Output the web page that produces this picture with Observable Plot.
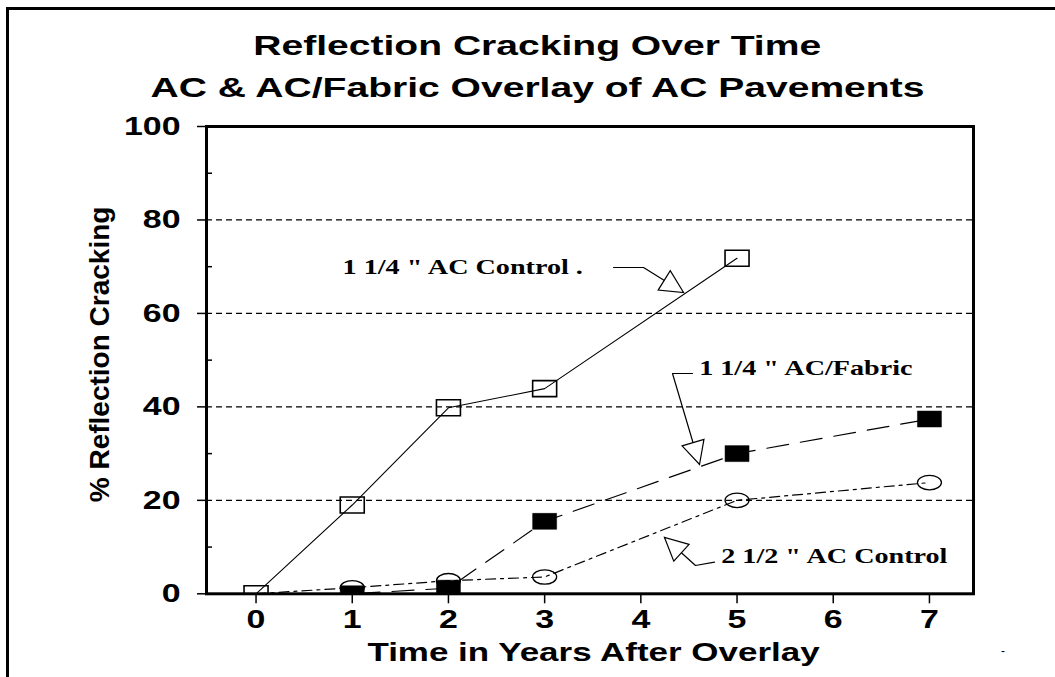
<!DOCTYPE html>
<html><head><meta charset="utf-8">
<script src="https://cdn.jsdelivr.net/npm/d3@7"></script>
<script src="https://cdn.jsdelivr.net/npm/@observablehq/plot@0.6"></script>
<style>
html,body{margin:0;padding:0;background:#fff;}
#wrap{position:relative;width:1055px;height:677px;overflow:hidden;background:#fff;}
#title{height:110px;box-sizing:border-box;padding-top:23.6px;font-family:"Liberation Sans",Arial,sans-serif;font-weight:bold;font-size:28.5px;line-height:42px;width:1074px;text-align:center;color:#000;}
#title span{display:inline-block;transform:scaleX(1.37);transform-origin:50% 50%;white-space:nowrap;}
#border{position:absolute;left:6px;top:7px;right:-10px;bottom:-10px;border-left:3px solid #000;border-top:3px solid #000;pointer-events:none;}
#stray{position:absolute;left:1001px;top:645px;font-family:"Liberation Sans",Arial,sans-serif;font-size:12px;line-height:12px;color:#000;}
#chart svg{display:block;background:transparent;overflow:visible;}
</style>
</head><body>
<div id="wrap">
  <div id="title"><div><span>Reflection Cracking Over Time</span></div><div><span>AC &amp; AC/Fabric Overlay of AC Pavements</span></div></div>
  <div id="chart"></div>
  <div id="border"></div>
  <div id="stray">-</div>
</div>
<script>
// ---- data ----
const years = [0, 1, 2, 3, 4, 5, 6, 7];
const yTicks = [0, 20, 40, 60, 80, 100];
const yMinorTicks = [10, 30, 50, 70, 90];
const gridValues = [20, 40, 60, 80];

const ac114Years = [0, 1, 2, 3, 5];
const ac114 = [0, 19, 39.8, 43.9, 71.8];

const fabricYears = [0, 1, 2, 3, 5, 7];
const fabric = [0, 0, 1.2, 15.5, 30, 37.4];

const ac212Years = [0, 1, 2, 3, 5, 7];
const ac212 = [0, 1.3, 2.8, 3.6, 20, 23.8];

const labelTexts = ['1 1/4 " AC Control .', '1 1/4 " AC/Fabric', '2 1/2 " AC Control'];
const labelX = [0.9, 4.606, 4.836];
const labelY = [69.9, 48.4, 8.1];
const leaderX = [[3.716, 4.028, 4.444], [4.537, 4.329, 4.610], [4.766, 4.568, 4.246]];
const leaderY = [[69.83, 69.83, 64.48], [47.14, 47.14, 27.67], [6.76, 6.06, 12.05]];

const xTitle = "Time in Years After Overlay";
const yTitle = "% Reflection Cracking";

// ---- layout ----
const W = 1055, H = 567, mL = 206, mR = 82, mT = 16, mB = 83.7;
const xDomain = [-0.515, 7.458], yDomain = [0, 100];
const pxX = (W - mL - mR) / (xDomain[1] - xDomain[0]);
const pxY = (H - mT - mB) / (yDomain[1] - yDomain[0]);

const s1 = ac114Years.map((x, i) => ({x, y: ac114[i]}));
const s2 = fabricYears.map((x, i) => ({x, y: fabric[i]}));
const s3 = ac212Years.map((x, i) => ({x, y: ac212[i]}));

const leaders = leaderX.flatMap((xs, k) => xs.map((x, j) => ({id: k, x, y: leaderY[k][j]})));
const heads = leaderX.map((xs, k) => {
  const n = xs.length;
  const dx = (xs[n - 1] - xs[n - 2]) * pxX;
  const dy = -(leaderY[k][n - 1] - leaderY[k][n - 2]) * pxY;
  return {x: xs[n - 1], y: leaderY[k][n - 1], angle: Math.atan2(dy, dx) * 180 / Math.PI};
});
const labels = labelTexts.map((t, i) => ({t, x: labelX[i], y: labelY[i]}));

// ---- custom symbols ----
const rectSymbol = {draw(ctx, size) {
  const r = Math.sqrt(size / Math.PI), w = r, h = r * 2 / 3;
  ctx.moveTo(-w, -h); ctx.lineTo(w, -h); ctx.lineTo(w, h); ctx.lineTo(-w, h); ctx.closePath();
}};
const ellipseSymbol = {draw(ctx, size) {
  const r = Math.sqrt(size / Math.PI), a = r, b = r * 0.6, k = 0.5523;
  ctx.moveTo(a, 0);
  ctx.bezierCurveTo(a, b * k, a * k, b, 0, b);
  ctx.bezierCurveTo(-a * k, b, -a, b * k, -a, 0);
  ctx.bezierCurveTo(-a, -b * k, -a * k, -b, 0, -b);
  ctx.bezierCurveTo(a * k, -b, a, -b * k, a, 0);
  ctx.closePath();
}};
const headSymbol = {draw(ctx, size) {
  const r = Math.sqrt(size / Math.PI);
  ctx.moveTo(0, 0); ctx.lineTo(-1.9 * r, -0.95 * r); ctx.lineTo(-1.9 * r, 0.95 * r); ctx.closePath();
}};

const sans = '"Liberation Sans", Arial, sans-serif';
const serif = '"Liberation Serif", "Times New Roman", serif';

const svg = Plot.plot({
  width: W, height: H, marginLeft: mL, marginRight: mR, marginTop: mT, marginBottom: mB,
  x: {domain: xDomain},
  y: {domain: yDomain},
  style: {fontFamily: sans, background: "transparent", color: "#000", overflow: "visible"},
  marks: [
    Plot.ruleY(gridValues, {stroke: "#000", strokeWidth: 1.3, strokeDasharray: "6,4"}),
    Plot.line(s1, {x: "x", y: "y", stroke: "#000", strokeWidth: 1.1}),
    Plot.line(s2, {x: "x", y: "y", stroke: "#000", strokeWidth: 1.2, strokeDasharray: "22,12"}),
    Plot.line(s3, {x: "x", y: "y", stroke: "#000", strokeWidth: 1.2, strokeDasharray: "10,5,3,5"}),
    Plot.dot(s3.filter(d => d.x > 0), {x: "x", y: "y", symbol: ellipseSymbol, r: 12, fill: "none", stroke: "#000", strokeWidth: 1.3, clip: true}),
    Plot.dot(s1, {x: "x", y: "y", symbol: rectSymbol, r: 12, fill: "none", stroke: "#000", strokeWidth: 1.6, clip: true}),
    Plot.dot(s2.filter(d => d.x > 0), {x: "x", y: "y", symbol: rectSymbol, r: 12, fill: "#000", stroke: "#000", strokeWidth: 0.5, clip: true}),
    Plot.line(leaders, {x: "x", y: "y", z: "id", stroke: "#000", strokeWidth: 1.2}),
    Plot.dot(heads, {x: "x", y: "y", rotate: "angle", symbol: headSymbol, r: 12, fill: "#fff", stroke: "#000", strokeWidth: 1.2}),
    Plot.text(labels, {x: "x", y: "y", text: "t", textAnchor: "start", lineAnchor: "middle", fontFamily: serif, fontWeight: "bold", fontSize: 22, fill: "#000"}),
    Plot.frame({stroke: "#000", strokeWidth: 3}),
    Plot.axisY({ticks: yTicks, tickSize: 9, tickPadding: 17, fontSize: 26.5, fontWeight: "bold", label: null, strokeWidth: 1.5}),
    Plot.axisY({ticks: yMinorTicks, tickSize: -6, tickFormat: () => "", label: null, strokeWidth: 1.5}),
    Plot.axisX({ticks: years, tickSize: 10, tickPadding: 5, fontSize: 26.5, fontWeight: "bold", label: null, strokeWidth: 1.5}),
    Plot.text([xTitle], {text: d => d, frameAnchor: "bottom", textAnchor: "middle", lineAnchor: "middle", dy: 59.2, dx: 3.5, fontSize: 26.5, fontWeight: "bold", fill: "#000"}),
    Plot.text([yTitle], {text: d => d, frameAnchor: "left", textAnchor: "middle", lineAnchor: "middle", dx: -106, dy: -5.7, rotate: -90, fontSize: 28, fontWeight: "bold", fill: "#000"})
  ]
});
document.getElementById("chart").appendChild(svg);

// horizontal stretch of the horizontal texts, as in the reference rendering
function stretch(t, k) {
  const tr = t.getAttribute("transform") || "";
  if (tr.includes("rotate")) return;
  const x = +t.getAttribute("x") || 0, y = +t.getAttribute("y") || 0;
  t.setAttribute("transform", `${tr} translate(${x},${y}) scale(${k},1) translate(${-x},${-y})`);
}
svg.querySelectorAll("text").forEach(t => {
  const s = t.textContent;
  const g = t.closest("g[aria-label]");
  const aria = g ? g.getAttribute("aria-label") : "";
  if (s === xTitle) stretch(t, 1.32);
  else if (labelTexts.includes(s)) stretch(t, 1.28);
  else if (aria === "y-axis tick label" || aria === "x-axis tick label") stretch(t, 1.28);
});
</script>
</body></html>
